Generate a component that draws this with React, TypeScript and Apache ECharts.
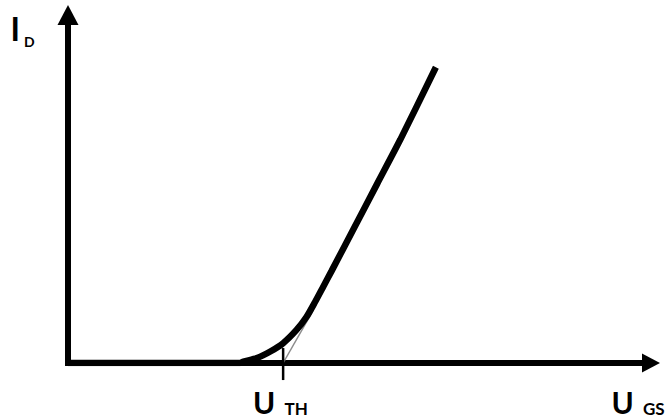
import React, { useEffect, useRef } from "react";
import * as echarts from "echarts";

// Transfer characteristic I_D(U_GS) of a MOSFET
const uGs = [0, 2.95, 3.01, 3.24, 3.47, 3.69, 3.92, 4.09, 4.24, 4.38, 4.52, 4.9, 5.3, 5.7, 6.31];
const iD = [0, 0, 0.04, 0.14, 0.33, 0.57, 0.95, 1.32, 1.76, 2.2, 2.64, 3.86, 5.14, 6.42, 8.5];

// Threshold voltage and the tangent from the linear region back to the axis
const uTh = 3.69;
const tangentU = [uTh, 4.2];
const tangentI = [0, 1.5];
// Short tick marking U_TH across the horizontal axis
const tickI = [-0.49, 0.43];

const FONT = "Lato, 'Open Sans', 'DejaVu Sans', sans-serif";

export default function App() {
  const ref = useRef<HTMLDivElement>(null);

  useEffect(() => {
    if (!ref.current) return;
    const chart = echarts.init(ref.current, null, { renderer: "svg" });

    const curve = uGs.map((u, i) => [u, iD[i]]);
    const tangent = tangentU.map((u, i) => [u, tangentI[i]]);
    const tick = tickI.map((v) => [uTh, v]);

    const axisLine = (size: number[]) => ({
      show: true,
      symbol: ["none", "triangle"],
      symbolSize: size,
      lineStyle: { color: "#000", width: 6, cap: "square" },
    });

    const txt = (text: string, x: number, y: number, size: number) => ({
      type: "text",
      x,
      y,
      style: {
        text,
        fill: "#000",
        font: `bold ${size}px ${FONT}`,
        lineHeight: size,
        verticalAlign: "middle",
      },
    });

    chart.setOption({
      animation: false,
      backgroundColor: "#fff",
      grid: { left: 68, right: 17, top: 15, bottom: 57 },
      xAxis: {
        type: "value",
        min: 0,
        max: 10,
        axisLine: axisLine([19, 18]),
        axisTick: { show: false },
        axisLabel: { show: false },
        splitLine: { show: false },
      },
      yAxis: {
        type: "value",
        min: 0,
        max: 10,
        axisLine: axisLine([21, 20]),
        axisTick: { show: false },
        axisLabel: { show: false },
        splitLine: { show: false },
      },
      series: [
        {
          type: "line",
          data: tangent,
          symbol: "none",
          lineStyle: { color: "#8c8c8c", width: 1.5 },
          z: 3,
        },
        {
          type: "line",
          data: tick,
          symbol: "none",
          clip: false,
          lineStyle: { color: "#000", width: 2.5 },
          z: 4,
        },
        {
          type: "line",
          data: curve,
          symbol: "none",
          smooth: 0.25,
          lineStyle: { color: "#000", width: 6.5 },
          z: 5,
        },
      ],
      graphic: [
        txt("I", 10.5, 28.3, 32),
        txt("D", 24, 41.6, 14),
        txt("U", 253, 401.9, 30),
        txt("TH", 284.5, 408.4, 17),
        txt("U", 611.5, 401.9, 30),
        txt("GS", 643, 408.4, 17),
      ],
    });

    return () => chart.dispose();
  }, []);

  return (
    <div
      ref={ref}
      style={{ position: "fixed", left: 0, top: 0, width: 668, height: 420 }}
    />
  );
}
